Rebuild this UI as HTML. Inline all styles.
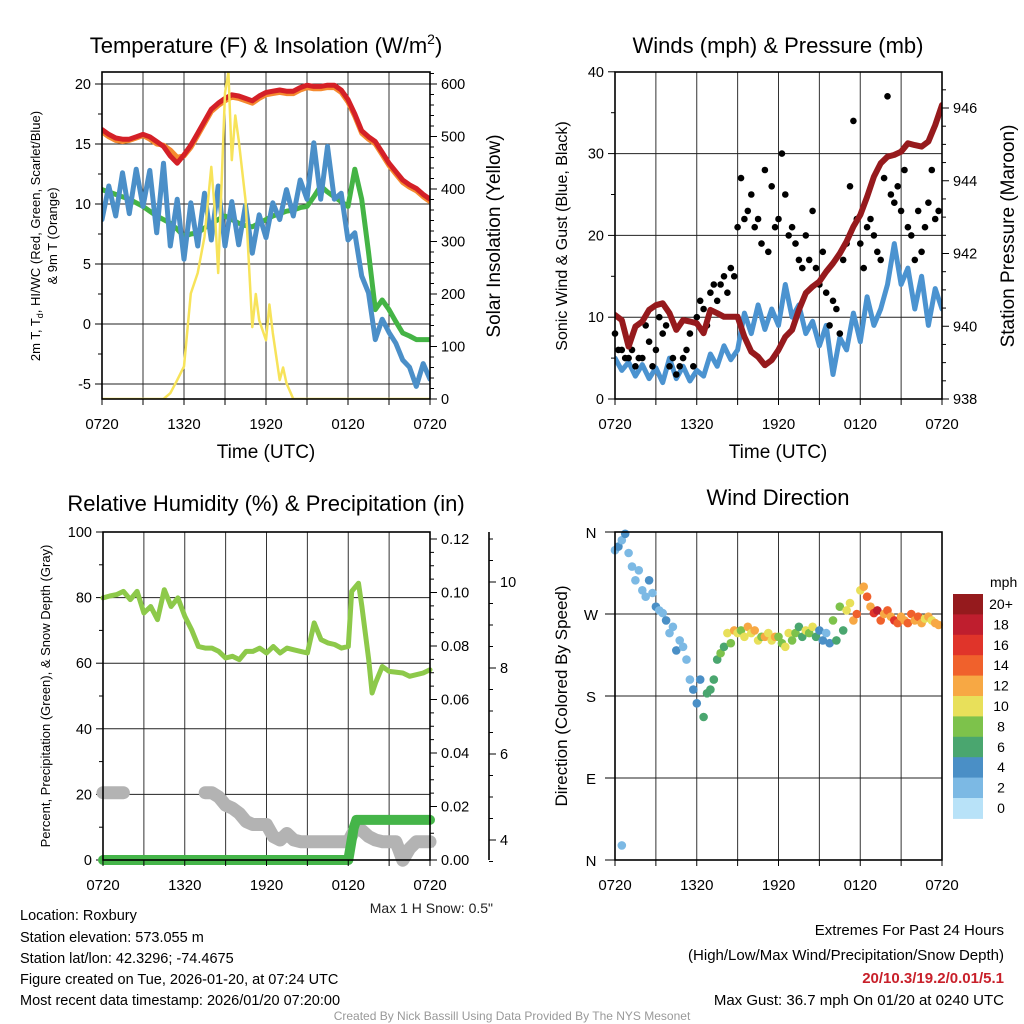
<!DOCTYPE html>
<html><head><meta charset="utf-8"><style>
html,body{margin:0;padding:0;background:#fff}
svg{display:block;font-family:"Liberation Sans",Arial,sans-serif}
</style></head><body>
<svg id="s" width="1024" height="1024" viewBox="0 0 1024 1024" xmlns="http://www.w3.org/2000/svg">
<defs>
<clipPath id="c1"><rect x="102" y="72" width="328" height="327"/></clipPath>
<clipPath id="c2"><rect x="615" y="72" width="327" height="327"/></clipPath>
</defs>
<g id="g1"></g>
<g id="g2"></g>
<g id="g3"></g>
<g id="g4"></g>
<g font-size="22" fill="#000" text-anchor="middle">
<text x="266" y="53">Temperature (F) &amp; Insolation (W/m<tspan font-size="14" dy="-9">2</tspan><tspan dy="9">)</tspan></text>
<text x="778" y="53">Winds (mph) &amp; Pressure (mb)</text>
<text x="266" y="511">Relative Humidity (%) &amp; Precipitation (in)</text>
<text x="778" y="505">Wind Direction</text>
</g>
<g font-size="19" text-anchor="middle">
<text x="266" y="458">Time (UTC)</text>
<text x="778" y="458">Time (UTC)</text>
<text transform="translate(500,236) rotate(-90)">Solar Insolation (Yellow)</text>
<text transform="translate(1014,236) rotate(-90)">Station Pressure (Maroon)</text>
</g>
<g font-size="13" text-anchor="middle">
<text transform="translate(40,236) rotate(-90)">2m T, T<tspan font-size="9" dy="3">d</tspan><tspan dy="-3">, HI/WC (Red, Green, Scarlet/Blue)</tspan></text>
<text transform="translate(57,236) rotate(-90)">&amp; 9m T (Orange)</text>
<text transform="translate(50,696) rotate(-90)">Percent, Precipitation (Green), &amp; Snow Depth (Gray)</text>
</g>
<text font-size="16" text-anchor="middle" transform="translate(567,236) rotate(-90)">Sonic Wind &amp; Gust (Blue, Black)</text>
<text font-size="17" text-anchor="middle" transform="translate(567,696) rotate(-90)">Direction (Colored By Speed)</text>
<text x="493" y="913" font-size="14" text-anchor="end" fill="#222">Max 1 H Snow: 0.5"</text>
<g font-size="14.5" fill="#000">
<text x="20" y="920">Location: Roxbury</text>
<text x="20" y="942">Station elevation: 573.055 m</text>
<text x="20" y="963">Station lat/lon: 42.3296; -74.4675</text>
<text x="20" y="984">Figure created on Tue, 2026-01-20, at 07:24 UTC</text>
<text x="20" y="1005">Most recent data timestamp: 2026/01/20 07:20:00</text>
</g>
<g font-size="15" text-anchor="end">
<text x="1004" y="935">Extremes For Past 24 Hours</text>
<text x="1004" y="960">(High/Low/Max Wind/Precipitation/Snow Depth)</text>
<text x="1004" y="983" fill="#c8202a" font-weight="bold">20/10.3/19.2/0.01/5.1</text>
<text x="1004" y="1005">Max Gust: 36.7 mph On 01/20 at 0240 UTC</text>
</g>
<text x="512" y="1020" font-size="12" fill="#999" text-anchor="middle">Created By Nick Bassill Using Data Provided By The NYS Mesonet</text>
</svg>
<script>
// ---- Panel 1 data (half-hourly, hours since 0720 UTC) ----
const tempT=[16.2,15.8,15.5,15.4,15.4,15.6,15.8,15.6,15.2,14.8,14.0,13.4,14.1,14.9,15.9,16.9,17.9,18.4,18.8,19.1,19.0,18.8,18.6,19.0,19.3,19.4,19.5,19.4,19.4,19.7,19.9,19.8,19.8,19.9,19.9,19.5,18.7,17.5,16.1,15.6,15.2,14.3,13.4,12.7,12.0,11.6,11.3,10.8,10.4];
const temp9m=[16.0,15.6,15.3,15.2,15.3,15.5,15.7,15.4,15.0,14.9,14.5,13.9,14.0,14.7,15.7,16.7,17.7,18.2,18.6,18.9,18.8,18.6,18.4,18.8,19.1,19.2,19.3,19.2,19.2,19.5,19.7,19.6,19.6,19.7,19.7,19.3,18.5,17.3,15.9,15.4,15.0,14.1,13.2,12.5,11.8,11.4,11.1,10.6,10.2];
const dewTd=[11.2,11.0,10.8,10.6,10.4,10.1,9.8,9.4,9.0,8.7,8.4,7.9,7.3,7.5,7.6,8.0,8.4,8.7,9.0,8.7,8.4,8.2,8.1,8.4,8.7,9.0,9.2,9.4,9.5,9.7,9.8,10.6,11.5,11.0,10.6,10.2,9.8,12.9,10.4,6.0,1.2,2.0,1.2,0.2,-0.75,-1.0,-1.3,-1.3,-1.3];
const windChill=[8.7,11.5,9.0,12.6,9.2,12.9,9.8,12.8,7.6,13.4,6.5,10.4,5.4,10.1,6.5,10.9,7.0,11.5,6.5,10.2,6.6,9.9,5.9,9.1,7.2,10.1,8.7,11.2,9.0,12.0,10.4,15.1,10.4,14.8,10.4,10.9,7.0,7.6,4.0,2.6,-1.3,0.4,-0.7,-1.6,-3.0,-3.6,-5.2,-3.3,-4.6];
const solarT=[0,1,2,3,4,4.5,5,5.5,6,6.5,7,7.5,8,8.25,8.5,9,9.25,9.5,9.75,10,10.5,11,11.25,11.5,12,12.25,12.5,13,13.25,13.5,14,24];
const solarW=[0,0,0,0,0,0,11,36,62,201,240,309,442,360,240,583,623,455,540,493,379,137,200,150,112,180,126,36,60,30,0,0];
// ---- Panel 2 data ----
const windSonic=[5.0,3.5,4.5,2.8,4.2,2.5,3.8,2.0,5.0,2.5,4.0,2.2,3.5,2.8,5.5,4.0,6.5,4.8,6.0,10.5,8.0,11.5,8.5,11.0,9.0,14.0,10.0,11.5,8.0,9.5,6.5,9.0,3.0,7.5,6.0,10.5,7.0,12.5,9.0,11.0,14.0,19.0,14.0,16.0,11.0,15.0,9.0,13.5,11.0];
const pressure=[940.31,940.17,939.44,939.99,940.13,940.45,940.58,940.63,940.36,939.90,940.17,940.13,940.08,939.81,940.45,940.36,940.26,940.26,940.26,939.71,939.30,939.16,938.93,939.07,939.35,939.71,939.90,940.45,940.91,941.09,941.23,941.50,941.73,942.0,942.33,942.74,943.06,943.56,944.11,944.48,944.66,944.71,944.80,945.03,944.98,944.94,945.08,945.53,946.08];
const gusts=[8,6,6,5,5,6,4,5,5,9,7,4,6,10,8,9,4,5,3,4,5,6,8,4,10,12,11,9,13,14,12,14,15,13,16,15,21,27,22,23,25,21,22,19,28,18,26,21,22,30,25,20,21,19,17,16,20,17,23,16,14,18,13,9,12,11,8,17,19,26,34,22,19,16,21,22,20,18,17,27,37,25,24,26,23,28,21,20,17,23,18,21,24,28,22,23];
// ---- Panel 3 data ----
const rh=[79.9,80.5,80.9,81.9,79.4,81.9,75.3,77.3,73.3,82.4,77.3,79.9,74.3,70.2,65.1,64.6,64.6,63.6,61.6,62.1,61.1,63.6,63.6,64.6,63.1,65.1,63.1,64.6,64.1,63.6,63.1,72.3,67.2,66.2,65.7,64.6,65.1,81.9,84.4,77.3,61.1,50.9,54.0,59.0,57.5,57.0,56.0,57.0,58.0];
const rhT=[0,0.5,1,1.5,2,2.5,3,3.5,4,4.5,5,5.5,6,6.5,7,7.5,8,8.5,9,9.5,10,10.5,11,11.5,12,12.5,13,13.5,14,14.5,15,15.5,16,16.5,17,17.5,18,18.25,18.75,19,19.5,19.75,20,20.5,21,22,22.5,23.5,24];
const precipT=[0,18.0,18.2,18.4,18.6,24];
const precip=[0,0,0.006,0.012,0.015,0.015];
const snowDepth=[5.1,5.1,5.1,5.1,null,null,null,null,null,null,null,null,null,null,null,5.1,5.1,5.0,4.81,4.74,4.62,4.43,4.36,4.36,4.36,4.08,4.0,4.15,4.0,3.96,3.96,3.96,3.96,3.96,3.96,3.96,3.96,4.26,4.22,4.08,4.0,3.96,3.96,3.96,3.53,3.8,3.96,3.96,3.96];
// ---- Panel 4 data (15-min) ----
const dirDeg=[340,344,351,358,337,322,307,318,296,289,307,293,278,274,271,263,249,256,230,241,234,220,198,187,172,198,157,183,187,198,220,227,234,249,238,252,249,252,245,256,249,252,241,245,245,249,241,245,245,238,234,249,241,249,256,245,252,249,256,245,252,241,249,238,263,241,278,252,274,282,263,270,296,300,289,278,271,274,263,270,274,267,263,260,267,263,260,270,263,267,260,265,267,263,260,258];
const dirSpeed=[3,4,3,4,3,2,3,2,3,3,4,2,4,3,2,4,3,2,4,3,3,2,3,4,5,4,6,7,6,7,6,8,7,10,9,12,11,9,10,12,11,13,10,9,12,10,11,13,9,8,10,11,8,9,7,6,10,9,11,6,5,4,3,5,8,6,9,7,10,11,12,14,11,12,14,13,16,18,14,13,15,13,17,14,13,12,14,15,12,14,13,11,12,11,13,12];
const dirOutlierT=[0.5];
const dirOutlierDeg=[16];
const dirOutlierSpd=[2];
const speedColors=["#b8e2f8","#7cb9e4","#4a8fc6","#4aa66f","#7dc24b","#e8e05a","#f7a844","#f0612c","#e0342a","#bf1e2e","#951a1d"];
const speedLabels=["0","2","4","6","8","10","12","14","16","18","20+"];
const xTickLabels=["0720","1320","1920","0120","0720"];

const NS="http://www.w3.org/2000/svg";
function mk(tag,attrs,parent){const e=document.createElementNS(NS,tag);for(const k in attrs)e.setAttribute(k,attrs[k]);parent.appendChild(e);return e;}
const g1=document.getElementById('g1'),g2=document.getElementById('g2'),g3=document.getElementById('g3'),g4=document.getElementById('g4');

const x1=h=>102+h*328/24, yT=v=>324-v*12, yS=w=>399-w*0.525;
const x2=h=>615+h*327/24, yW=v=>399-v*8.18, yP=p=>399-(p-938)*36.375;
const x3=h=>103+h*327/24, yR=v=>860-v*3.28, yPr=v=>860-v*2675, ySn=d=>840-(d-4)*43;
const yD=d=>860-d*328/360;

function frame(g,L,T,R,B,hY,name){
  for(let i=1;i<8;i++){const x=L+(R-L)*i/8;const l=mk('line',{x1:x,y1:T,x2:x,y2:B,stroke:'#333','stroke-width':1},g);
    }
  hY.forEach(y=>{const l=mk('line',{x1:L,y1:y,x2:R,y2:y,stroke:'#222','stroke-width':1},g);
    });
}
function border(g,L,T,R,B,name){const r=mk('rect',{x:L,y:T,width:R-L,height:B-T,fill:'none',stroke:'#000','stroke-width':1.6},g);
  }
function xTicks(g,xf,B,name){
  for(let i=0;i<=8;i++){const x=xf(i*3);mk('line',{x1:x,y1:B,x2:x,y2:B+6,stroke:'#000'},g);}
  xTickLabels.forEach((s,i)=>{const t=mk('text',{x:xf(i*6),y:B+30,'font-size':15,'text-anchor':'middle'},g);t.textContent=s;
    });
}
function yAxis(g,x,vals,yf,labels,side,name,minor,len){
  vals.forEach((v,i)=>{const y=yf(v);mk('line',{x1:x,y1:y,x2:x+side*(len||7),y2:y,stroke:'#000'},g);
    const t=mk('text',{x:x+side*11,y:y+5,'font-size':14.5,'text-anchor':side<0?'end':'start'},g);t.textContent=labels[i];
    });
  (minor||[]).forEach(v=>{const y=yf(v);mk('line',{x1:x,y1:y,x2:x+side*4,y2:y,stroke:'#000'},g);});
}
function line(g,xs,ys,xf,yf,color,w,name,clip){
  let d='',pen=false;
  for(let i=0;i<ys.length;i++){if(ys[i]===null){pen=false;continue;}
    d+=(pen?'L':'M')+xf(xs[i]).toFixed(1)+' '+yf(ys[i]).toFixed(1)+' ';pen=true;}
  const p=mk('path',{d:d,fill:'none',stroke:color,'stroke-width':w,'stroke-linejoin':'round','stroke-linecap':'round'},g);
  if(clip)p.setAttribute('clip-path','url(#'+clip+')');
  
}
const half=n=>Array.from({length:n},(_,i)=>i*0.5);
const rng=(a,b,s)=>{const r=[];for(let v=a;v<=b+1e-9;v+=s)r.push(+v.toFixed(3));return r;};

// ---- Panel 1 ----
frame(g1,102,72,430,399,[-5,0,5,10,15,20].map(yT),'temp');
yAxis(g1,102,[-5,0,5,10,15,20],yT,['-5','0','5','10','15','20'],-1,'temp-left',[-2.5,2.5,7.5,12.5,17.5]);
yAxis(g1,430,[0,100,200,300,400,500,600],yS,['0','100','200','300','400','500','600'],1,'insolation-right',rng(20,620,20).filter(v=>v%100));
line(g1,half(temp9m.length),temp9m,x1,yT,'#f58a2f',5,'series-9m-temp','c1');
line(g1,half(tempT.length),tempT,x1,yT,'#d42027',5,'series-2m-temp','c1');
line(g1,half(dewTd.length),dewTd,x1,yT,'#44b445',5,'series-dewpoint','c1');
line(g1,half(windChill.length),windChill,x1,yT,'#4b8fc8',5,'series-wind-chill','c1');
line(g1,solarT,solarW,x1,yS,'#f7e35a',2.5,'series-solar-insolation','c1');
border(g1,102,72,430,399,'temp');
xTicks(g1,x1,399,'temp');

// ---- Panel 2 ----
frame(g2,615,72,942,399,[10,20,30].map(yW),'winds');
yAxis(g2,615,[0,10,20,30,40],yW,['0','10','20','30','40'],-1,'wind-left',[5,15,25,35]);
yAxis(g2,942,[938,940,942,944,946],yP,['938','940','942','944','946'],1,'pressure-right',rng(938.5,946.5,0.5).filter(v=>v%2));
line(g2,half(windSonic.length),windSonic,x2,yW,'#4b93d0',5,'series-sonic-wind','c2');
gusts.forEach((v,i)=>{const c=mk('circle',{cx:x2(i*0.25).toFixed(1),cy:yW(v).toFixed(1),r:3.3,fill:'#000'},g2);
  
  });
line(g2,half(pressure.length),pressure,x2,yP,'#961a1d',6,'series-pressure','c2');
border(g2,615,72,942,399,'winds');
xTicks(g2,x2,399,'winds');

// ---- Panel 3 ----
frame(g3,103,532,430,860,[20,40,60,80].map(yR),'humidity');
yAxis(g3,103,[0,20,40,60,80,100],yR,['0','20','40','60','80','100'],-1,'percent-left',[10,30,50,70,90]);
yAxis(g3,430,[0,0.02,0.04,0.06,0.08,0.1,0.12],yPr,['0.00','0.02','0.04','0.06','0.08','0.10','0.12'],1,'precip-right',rng(0.005,0.115,0.005).filter((v,i)=>i%4!==3));
mk('line',{x1:489,y1:532,x2:489,y2:860,stroke:'#000','stroke-width':1.6},g3);
yAxis(g3,489,[4,6,8,10],ySn,['4','6','8','10'],1,'snow-right',[3.5,4.5,5,5.5,6.5,7,7.5,8.5,9,9.5,10.5,11]);
line(g3,rhT,rh,x3,yR,'#8dc94a',5,'series-relative-humidity');
line(g3,half(snowDepth.length),snowDepth,x3,ySn,'#b3b3b3',13,'series-snow-depth');
line(g3,precipT,precip,x3,yPr,'#45b549',10,'series-precipitation');
border(g3,103,532,430,860,'humidity');
xTicks(g3,x3,860,'humidity');

// ---- Panel 4 ----
frame(g4,615,532,942,860,[90,180,270].map(yD),'direction');
['N','E','S','W','N'].forEach((s,i)=>{const y=yD(i*90);mk('line',{x1:605,y1:y,x2:615,y2:y,stroke:'#000'},g4);
  const t=mk('text',{x:591,y:y+6,'font-size':15,'text-anchor':'middle'},g4);t.textContent=s;
  });
const colorFor=s=>speedColors[Math.max(0,Math.min(10,Math.floor(s/2)))];
dirDeg.forEach((d,i)=>{const c=mk('circle',{cx:x2(i*0.25).toFixed(1),cy:yD(d).toFixed(1),r:4.3,fill:colorFor(dirSpeed[i])},g4);
  
  });
dirOutlierDeg.forEach((d,i)=>{const c=mk('circle',{cx:x2(dirOutlierT[i]),cy:yD(d),r:4.3,fill:colorFor(dirOutlierSpd[i])},g4);
  
  });
border(g4,615,532,942,860,'direction');
xTicks(g4,x2,860,'direction');
const cbT=594,cbH=20.4;
const mph=mk('text',{x:990,y:587,'font-size':14,'text-anchor':'start'},g4);mph.textContent='mph';

speedColors.slice().reverse().forEach((c,i)=>{const r=mk('rect',{x:953,y:cbT+i*cbH,width:30,height:cbH+0.5,fill:c},g4);
  
  const t=mk('text',{x:1001,y:cbT+i*cbH+15,'font-size':14,'text-anchor':'middle'},g4);t.textContent=speedLabels[10-i];
  });
</script>
</body></html>
